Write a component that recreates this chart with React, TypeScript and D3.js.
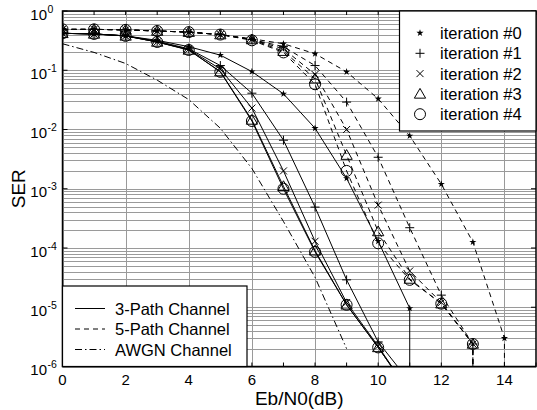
import React from 'react';
import * as d3 from 'd3';

// Eb/N0 (dB) sample points
const ebN0 = [0, 1, 2, 3, 4, 5, 6, 7, 8, 9, 10, 11, 12, 13, 14, 15];

// 3-path channel, SER per iteration (0 = no more errors, curve drops to the floor)
const path3It0 = [0.42, 0.41, 0.38, 0.32, 0.25, 0.18, 0.095, 0.04, 0.0105, 0.0015, 1.3e-4, 9.6e-6, 0];
const path3It1 = [0.42, 0.41, 0.38, 0.31, 0.23, 0.12, 0.041, 6.6e-3, 4.9e-4, 2.9e-5, 2.6e-6, 5.5e-7];
const path3It2 = [0.42, 0.41, 0.38, 0.30, 0.225, 0.105, 0.023, 2.0e-3, 1.3e-4, 1.2e-5, 2.2e-6, 3.6e-7];
const path3It3 = [0.42, 0.41, 0.38, 0.30, 0.22, 0.095, 0.0145, 1.1e-3, 9.0e-5, 1.1e-5, 2.1e-6, 3.6e-7];
const path3It4 = [0.42, 0.41, 0.38, 0.30, 0.22, 0.094, 0.0139, 1.0e-3, 8.6e-5, 1.1e-5, 2.1e-6, 3.6e-7];

// 5-path channel
const path5It0 = [0.49, 0.49, 0.48, 0.46, 0.44, 0.40, 0.34, 0.28, 0.19, 0.094, 0.033, 7.8e-3, 1.2e-3, 1.26e-4, 3e-6, 0];
const path5It1 = [0.49, 0.49, 0.48, 0.46, 0.44, 0.40, 0.33, 0.25, 0.12, 0.029, 3.4e-3, 2.2e-4, 1.6e-5, 2.4e-6, 0];
const path5It2 = [0.49, 0.49, 0.48, 0.46, 0.44, 0.40, 0.33, 0.23, 0.085, 0.010, 5.3e-4, 4.1e-5, 1.2e-5, 2.4e-6, 0];
const path5It3 = [0.49, 0.49, 0.48, 0.46, 0.44, 0.40, 0.33, 0.21, 0.072, 3.7e-3, 1.9e-4, 3.0e-5, 1.15e-5, 2.4e-6, 0];
const path5It4 = [0.49, 0.49, 0.48, 0.46, 0.44, 0.40, 0.32, 0.20, 0.058, 2.0e-3, 1.2e-4, 2.9e-5, 1.15e-5, 2.4e-6, 0];

// AWGN channel
const awgn = [0.28, 0.2, 0.13, 0.068, 0.032, 0.0105, 2.2e-3, 2.8e-4, 3.2e-5, 2e-6];

const iterNames = ['iteration #0', 'iteration #1', 'iteration #2', 'iteration #3', 'iteration #4'];
const channelNames = ['3-Path Channel', '5-Path Channel', 'AWGN Channel'];
const xTicks = [0, 2, 4, 6, 8, 10, 12, 14];
const decades = [0, -1, -2, -3, -4, -5, -6];

const W = 537, H = 410;
const margin = { top: 11, right: 1, bottom: 43.5, left: 62.5 };
const FONT = '"Liberation Sans", Arial, Helvetica, sans-serif';

const x = d3.scaleLinear().domain([0, 15]).range([margin.left, W - margin.right]);
const y = d3.scaleLog().domain([1e-6, 1]).range([H - margin.bottom, margin.top]);

const dashStyles = ['none', '5,4', '7,3,1.5,3'];

function toPoints(vals: number[]): [number, number][] {
  const pts: [number, number][] = [];
  for (let i = 0; i < vals.length; i++) {
    if (vals[i] > 0) pts.push([ebN0[i], vals[i]]);
    else { pts.push([ebN0[i - 1], 1e-9]); break; }
  }
  return pts;
}

const line = d3.line<[number, number]>().x(d => x(d[0])).y(d => y(d[1]));

function Marker({ kind, cx, cy }: { kind: number; cx: number; cy: number }) {
  const t = `translate(${cx},${cy})`;
  const st = { fill: 'none', stroke: '#000', strokeWidth: 1 };
  if (kind === 0) return <path transform={t} d={d3.symbol(d3.symbolStar, 16)()!} fill="#000" />;
  if (kind === 1) return <path transform={t} d="M-4.5,0H4.5M0,-4.5V4.5" {...st} />;
  if (kind === 2) return <path transform={t} d="M-3.5,-3.5L3.5,3.5M-3.5,3.5L3.5,-3.5" {...st} />;
  if (kind === 3) return <path transform={`translate(${cx},${cy + 1})`} d={d3.symbol(d3.symbolTriangle, 55)()!} {...st} />;
  return <circle cx={cx} cy={cy} r={5.5} {...st} />;
}

export default function App() {
  const series = [
    { vals: path3It0, dash: 0, mk: 0 }, { vals: path3It1, dash: 0, mk: 1 }, { vals: path3It2, dash: 0, mk: 2 },
    { vals: path3It3, dash: 0, mk: 3 }, { vals: path3It4, dash: 0, mk: 4 },
    { vals: path5It0, dash: 1, mk: 0 }, { vals: path5It1, dash: 1, mk: 1 }, { vals: path5It2, dash: 1, mk: 2 },
    { vals: path5It3, dash: 1, mk: 3 }, { vals: path5It4, dash: 1, mk: 4 },
    { vals: awgn, dash: 2, mk: -1 },
  ];
  const x0 = x.range()[0], x1 = x.range()[1];
  const y0 = y.range()[1], y1 = y.range()[0];
  const minor: number[] = [];
  decades.slice(0, -1).forEach(k => { for (let m = 2; m <= 9; m++) minor.push(m * Math.pow(10, k - 1)); });

  return (
    <svg width={W} height={H} style={{ position: 'absolute', left: 0, top: 0, background: '#fff' }} fontFamily={FONT}>
      <defs>
        <clipPath id="plot"><rect x={x0} y={y0} width={x1 - x0} height={y1 - y0} /></clipPath>
      </defs>
      <rect x={0} y={0} width={W} height={H} fill="#fff" />
      {/* grid */}
      <g stroke="#9a9a9a" strokeWidth={1}>
        {minor.map((v, i) => <line key={'m' + i} x1={x0} x2={x1} y1={Math.round(y(v)) + 0.5} y2={Math.round(y(v)) + 0.5} />)}
        {decades.map(k => <line key={'d' + k} x1={x0} x2={x1} y1={Math.round(y(Math.pow(10, k))) + 0.5} y2={Math.round(y(Math.pow(10, k))) + 0.5} />)}
        {xTicks.map(t => <line key={'x' + t} x1={Math.round(x(t)) + 0.5} x2={Math.round(x(t)) + 0.5} y1={y0} y2={y1} />)}
      </g>
      {/* ticks */}
      <g stroke="#000" strokeWidth={1}>
        {d3.range(0, 16).map(t => (
          <g key={'t' + t}>
            <line x1={x(t)} x2={x(t)} y1={y1} y2={y1 - 4} />
            <line x1={x(t)} x2={x(t)} y1={y0} y2={y0 + 4} />
          </g>
        ))}
        {decades.map(k => (
          <g key={'yt' + k}>
            <line x1={x0} x2={x0 + 5} y1={y(Math.pow(10, k))} y2={y(Math.pow(10, k))} />
            <line x1={x1} x2={x1 - 5} y1={y(Math.pow(10, k))} y2={y(Math.pow(10, k))} />
          </g>
        ))}
      </g>
      {/* curves */}
      <g clipPath="url(#plot)">
        {series.map((s, i) => (
          <path key={'c' + i} d={line(toPoints(s.vals))!} fill="none" stroke="#000" strokeWidth={1}
            strokeDasharray={dashStyles[s.dash]} />
        ))}
        {series.filter(s => s.mk >= 0).map((s, i) =>
          s.vals.map((v, j) => v > 0 ? <Marker key={`p${i}-${j}`} kind={s.mk} cx={x(ebN0[j])} cy={y(v)} /> : null)
        )}
      </g>
      {/* axes box */}
      <rect x={x0} y={y0} width={x1 - x0} height={y1 - y0} fill="none" stroke="#000" strokeWidth={1.5} />
      {/* tick labels */}
      <g fontSize={15} fill="#000">
        {xTicks.map(t => <text key={'xl' + t} x={x(t)} y={y1 + 18.5} textAnchor="middle">{t}</text>)}
        {decades.map(k => (
          <text key={'yl' + k} x={47} y={y(Math.pow(10, k)) + 8.5} textAnchor="end">10</text>
        ))}
        {decades.map(k => (
          <text key={'ys' + k} x={47.5} y={y(Math.pow(10, k)) + 1.5} fontSize={10.5}>{k === 0 ? '0' : '-' + (-k)}</text>
        ))}
      </g>
      <text x={x(7.5)} y={405} textAnchor="middle" fontSize={19}>Eb/N0(dB)</text>
      <text transform={`translate(25,${(y0 + y1) / 2}) rotate(-90)`} textAnchor="middle" fontSize={19}>SER</text>
      {/* iteration legend */}
      <g>
        <rect x={399.5} y={y0} width={x1 - 399.5} height={120} fill="#fff" stroke="#000" strokeWidth={1.2} />
        {iterNames.map((n, i) => (
          <g key={n}>
            <Marker kind={i} cx={420} cy={33 + i * 20.3} />
            <text x={440} y={33 + i * 20.3 + 6} fontSize={16.5}>{n}</text>
          </g>
        ))}
      </g>
      {/* channel legend */}
      <g>
        <rect x={x0} y={286} width={247 - x0} height={y1 - 286} fill="#fff" stroke="#000" strokeWidth={1.2} />
        {channelNames.map((n, i) => (
          <g key={n}>
            <line x1={75} x2={105} y1={308.5 + i * 20.5} y2={308.5 + i * 20.5} stroke="#000" strokeWidth={1}
              strokeDasharray={dashStyles[i]} />
            <text x={115} y={308.5 + i * 20.5 + 6} fontSize={16.5}>{n}</text>
          </g>
        ))}
      </g>
    </svg>
  );
}
